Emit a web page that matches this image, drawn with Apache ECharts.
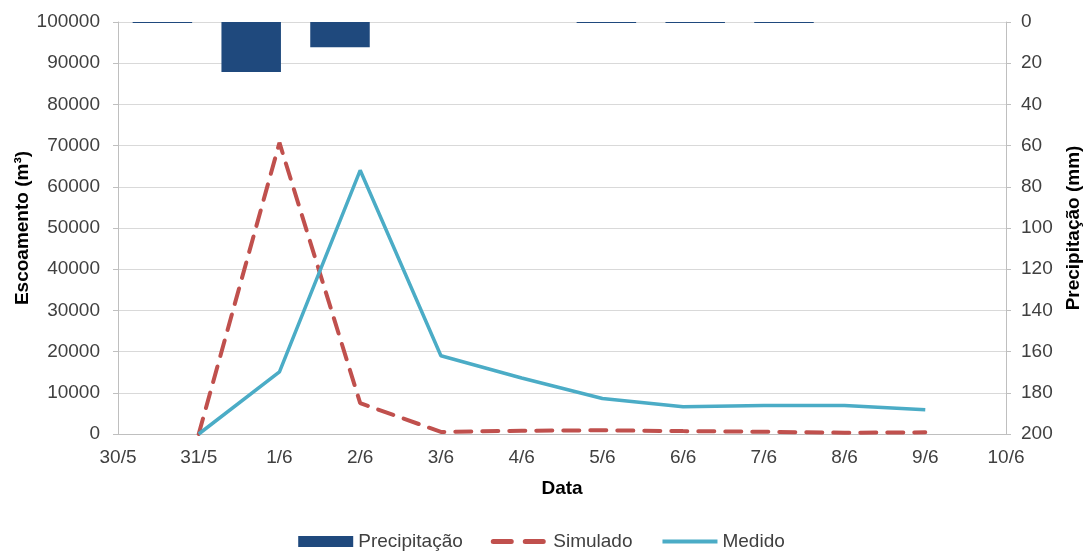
<!DOCTYPE html>
<html>
<head>
<meta charset="utf-8">
<script src="https://cdn.jsdelivr.net/npm/echarts@6/dist/echarts.min.js"></script>
<style>
  html, body { margin: 0; padding: 0; background: #ffffff; }
  #chart { width: 1083px; height: 551px; }
</style>
</head>
<body>
<div id="chart"></div>
<script>
// Date ticks of the runoff axis (lines sit on the ticks)
const dateLabels = ['30/5', '31/5', '1/6', '2/6', '3/6', '4/6', '5/6', '6/6', '7/6', '8/6', '9/6', '10/6'];
// Daily rainfall intervals (bars sit between ticks)
const rainDays = ['d1', 'd2', 'd3', 'd4', 'd5', 'd6', 'd7', 'd8', 'd9', 'd10'];

// Precipitação (mm), one value per day
const precipitacao = [0.5, 24.3, 12.2, 0, 0, 0.5, 0.5, 0.5, 0, 0];
// Escoamento (m³)
const simulado = [null, 0, 70700, 7500, 500, 800, 900, 700, 550, 300, 400, null];
const medido   = [null, 0, 15100, 64000, 19000, 13600, 8600, 6600, 6900, 6900, 5900, null];

// Axis ticks
const escoamentoTicks = { min: 0, max: 100000, interval: 10000 };
const precipTicks = { min: 0, max: 200, interval: 20 };

const font = 'Liberation Sans, Arial, sans-serif';
const textColor = '#404040';
const axisGray = '#bfbfbf';
const gridGray = '#d9d9d9';

const chart = echarts.init(document.getElementById('chart'), null, { renderer: 'canvas' });

chart.setOption({
  animation: false,
  backgroundColor: '#ffffff',
  textStyle: { fontFamily: font },
  grid: { left: 118, right: 77, top: 22, bottom: 117, containLabel: false, outerBoundsMode: 'none' },
  legend: {
    top: 527,
    left: 'center',
    itemWidth: 55,
    itemHeight: 11,
    itemGap: 28,
    textStyle: { fontSize: 19, color: textColor, fontFamily: font },
    data: [
      { name: 'Precipitação', icon: 'rect' },
      { name: 'Simulado', itemStyle: { opacity: 0 }, lineStyle: { width: 5, type: [18, 14] } },
      { name: 'Medido', itemStyle: { opacity: 0 }, lineStyle: { width: 4 } }
    ]
  },
  xAxis: [
    {
      type: 'category',
      data: dateLabels,
      boundaryGap: false,
      name: 'Data',
      nameLocation: 'middle',
      nameGap: 45,
      nameTextStyle: { fontSize: 19, fontWeight: 'bold', color: '#000000', fontFamily: font },
      axisLine: { lineStyle: { color: axisGray, width: 1 } },
      axisTick: { show: false },
      axisLabel: { fontSize: 19, color: textColor, margin: 14, fontFamily: font, interval: 0 },
      splitLine: { show: false }
    },
    {
      type: 'category',
      data: rainDays,
      boundaryGap: true,
      position: 'bottom',
      show: false
    }
  ],
  yAxis: [
    {
      type: 'value',
      min: escoamentoTicks.min,
      max: escoamentoTicks.max,
      interval: escoamentoTicks.interval,
      position: 'left',
      name: 'Escoamento (m³)',
      nameLocation: 'middle',
      nameGap: 86,
      nameRotate: 90,
      nameMoveOverlap: false,
      nameTextStyle: { fontSize: 19, fontWeight: 'bold', color: '#000000', fontFamily: font },
      axisLine: { show: true, lineStyle: { color: axisGray } },
      axisTick: { show: true, length: 5, lineStyle: { color: axisGray } },
      axisLabel: { fontSize: 19, color: textColor, margin: 18, fontFamily: font, formatter: (v) => String(v) },
      splitLine: { show: true, lineStyle: { color: gridGray, width: 1 } }
    },
    {
      type: 'value',
      min: precipTicks.min,
      max: precipTicks.max,
      interval: precipTicks.interval,
      inverse: true,
      position: 'right',
      name: 'Precipitação (mm)',
      nameLocation: 'middle',
      nameGap: 58,
      nameRotate: 90,
      nameMoveOverlap: false,
      nameTextStyle: { fontSize: 19, fontWeight: 'bold', color: '#000000', fontFamily: font },
      axisLine: { show: true, lineStyle: { color: axisGray } },
      axisTick: { show: true, length: 5, lineStyle: { color: axisGray } },
      axisLabel: { fontSize: 19, color: textColor, margin: 15, fontFamily: font, formatter: (v) => String(v) },
      splitLine: { show: false }
    }
  ],
  series: [
    {
      name: 'Precipitação',
      type: 'bar',
      xAxisIndex: 1,
      yAxisIndex: 1,
      data: precipitacao,
      barWidth: '67%',
      itemStyle: { color: '#1f497d' },
      z: 1
    },
    {
      name: 'Simulado',
      type: 'line',
      xAxisIndex: 0,
      yAxisIndex: 0,
      data: simulado,
      showSymbol: false,
      symbol: 'none',
      lineStyle: { color: '#c0504d', width: 4, type: [16, 11], cap: 'round' },
      itemStyle: { color: '#c0504d' },
      z: 3
    },
    {
      name: 'Medido',
      type: 'line',
      xAxisIndex: 0,
      yAxisIndex: 0,
      data: medido,
      showSymbol: false,
      symbol: 'none',
      lineStyle: { color: '#4bacc6', width: 3.5 },
      itemStyle: { color: '#4bacc6' },
      z: 4
    }
  ]
});
</script>
</body>
</html>
